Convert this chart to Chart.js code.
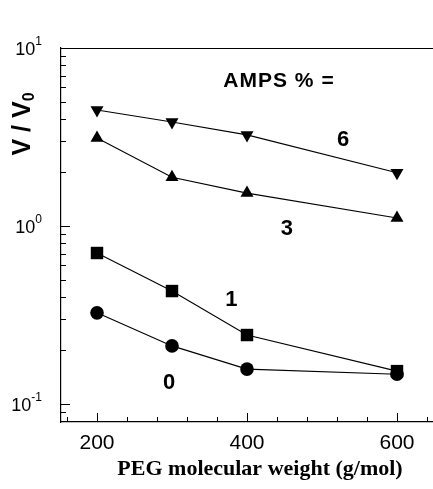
<!DOCTYPE html>
<html>
<head>
<meta charset="utf-8">
<script src="https://cdn.jsdelivr.net/npm/chart.js@4"></script>
<style>
  html,body{margin:0;padding:0;background:#fff;}
  #wrap{width:433px;height:489px;position:relative;}
</style>
</head>
<body>
<div id="wrap"><canvas id="c" width="433" height="489"></canvas></div>
<script>
/* ---------- DATA ---------- */
const pegMW   = [200, 300, 400, 600];
const amps6   = [4.48, 3.84, 3.25, 1.99];
const amps3   = [3.12, 1.88, 1.53, 1.11];
const amps1   = [0.705, 0.431, 0.244, 0.153];
const amps0   = [0.325, 0.212, 0.157, 0.147];
const xTickLabels = [200, 400, 600];
const yTickValues = [0.1, 1, 10];
const seriesNames = ['6', '3', '1', '0'];
// where each series name is written, in data units
const nameX = [528, 453, 379, 296];
const nameY = [3.04, 0.96, 0.384, 0.131];

const $ = id => document.getElementById(id);
const pts = arr => pegMW.map((x,i)=>({x, y:arr[i]}));
const SANS = '"Liberation Sans", Arial, sans-serif';

const mkSet = (arr, style, rot, r) => ({
  data: pts(arr), borderColor:'#000', borderWidth:1.1,
  pointStyle:style, pointRotation:rot||0, pointRadius:r,
  pointBackgroundColor:'#000', pointBorderColor:'#000', pointBorderWidth:0,
  tension:0, fill:false
});

/* ---------- FRAME, TICKS, TEXT ---------- */
const decor = {
  id:'decor',
  afterDraw(ch){
    const {ctx, chartArea:a, scales:{x, y}} = ch;
    ctx.save();
    ctx.strokeStyle='#000'; ctx.lineWidth=1.2;
    // top line
    ctx.beginPath(); ctx.moveTo(a.left, a.top+0.5); ctx.lineTo(a.right, a.top+0.5); ctx.stroke();

    ctx.lineWidth=1;
    // x ticks pointing inward: majors every 200, minors every 40
    for(let v=160; v<=640; v+=40){
      const px=Math.round(x.getPixelForValue(v))+0.5;
      const len = v%200===0 ? 9 : 5;
      ctx.beginPath(); ctx.moveTo(px, a.bottom); ctx.lineTo(px, a.bottom-len); ctx.stroke();
    }
    // y log ticks pointing inward
    [0.01,0.1,1].forEach(d=>{
      for(let m=1;m<=9;m++){
        const v=d*m;
        if(v<y.min || v>y.max) continue;
        const py=Math.round(y.getPixelForValue(v))+0.5;
        const len = m===1 ? 9 : 5;
        ctx.beginPath(); ctx.moveTo(a.left, py); ctx.lineTo(a.left+len, py); ctx.stroke();
      }
    });

    ctx.fillStyle='#000';
    // y tick labels with superscript exponents
    yTickValues.forEach(v=>{
      const py=y.getPixelForValue(v), exp=String(Math.round(Math.log10(v)));
      ctx.textBaseline='middle'; ctx.textAlign='left';
      ctx.font='18px '+SANS;
      const base='10', bw=ctx.measureText(base).width;
      ctx.font='12px '+SANS;
      const ew=ctx.measureText(exp).width;
      const x0=42-bw-ew;
      ctx.font='18px '+SANS;
      ctx.fillText(base, x0, py+2);
      ctx.font='12px '+SANS;
      ctx.fillText(exp, x0+bw, py-6);
    });

    // x tick labels
    ctx.textAlign='center';
    ctx.font='21px '+SANS;
    xTickLabels.forEach(v=>ctx.fillText(String(v), x.getPixelForValue(v), 443));

    // y title: V / V0 (rotated, subscript 0)
    ctx.save();
    ctx.translate(23, 124); ctx.rotate(-Math.PI/2);
    ctx.textBaseline='middle'; ctx.textAlign='left';
    ctx.font='bold 25px '+SANS;
    const t1='V / V', w1=ctx.measureText(t1).width;
    ctx.font='bold 16px '+SANS;
    const w2=ctx.measureText('0').width;
    const sx=-(w1+w2)/2;
    ctx.font='bold 25px '+SANS;
    ctx.fillText(t1, sx, 0);
    ctx.font='bold 16px '+SANS;
    ctx.fillText('0', sx+w1, 7);
    ctx.restore();

    // legend heading and series names
    ctx.textAlign='center'; ctx.textBaseline='middle';
    ctx.font='bold 21px '+SANS;
    ctx.letterSpacing='1px';
    ctx.fillText('AMPS % =', 279, 81);
    ctx.letterSpacing='0px';
    ctx.font='bold 22px '+SANS;
    seriesNames.forEach((s,i)=>{
      ctx.fillText(s, x.getPixelForValue(nameX[i]), y.getPixelForValue(nameY[i]));
    });

    // x title
    ctx.font='bold 22px "Liberation Serif", "Times New Roman", serif';
    ctx.fillText('PEG molecular weight (g/mol)', 260, 469);
    ctx.restore();
  }
};

new Chart($('c').getContext('2d'),{
  type:'line',
  data:{datasets:[
    mkSet(amps6,'triangle',180,7.5),
    mkSet(amps3,'triangle',0,7.5),
    mkSet(amps1,'rect',0,8.8),
    mkSet(amps0,'circle',0,6.8)
  ]},
  options:{
    responsive:false, animation:false,
    layout:{autoPadding:false, padding:{top:48,right:0,left:0,bottom:0}},
    plugins:{legend:{display:false}, tooltip:{enabled:false}},
    scales:{
      x:{
        type:'linear', min:152, max:648,
        afterFit:s=>{s.height=67; s.paddingLeft=0; s.paddingRight=0;},
        grid:{display:false, drawTicks:false},
        border:{display:true, color:'#000', width:1.2},
        afterBuildTicks:s=>{s.ticks=xTickLabels.map(v=>({value:v}));},
        ticks:{display:false}
      },
      y:{
        type:'logarithmic', min:0.0792, max:10,
        afterFit:s=>{s.width=61; s.paddingTop=0; s.paddingBottom=0;},
        grid:{display:false, drawTicks:false},
        border:{display:true, color:'#000', width:1.2},
        ticks:{display:false}
      }
    }
  },
  plugins:[decor]
});
</script>
</body>
</html>
